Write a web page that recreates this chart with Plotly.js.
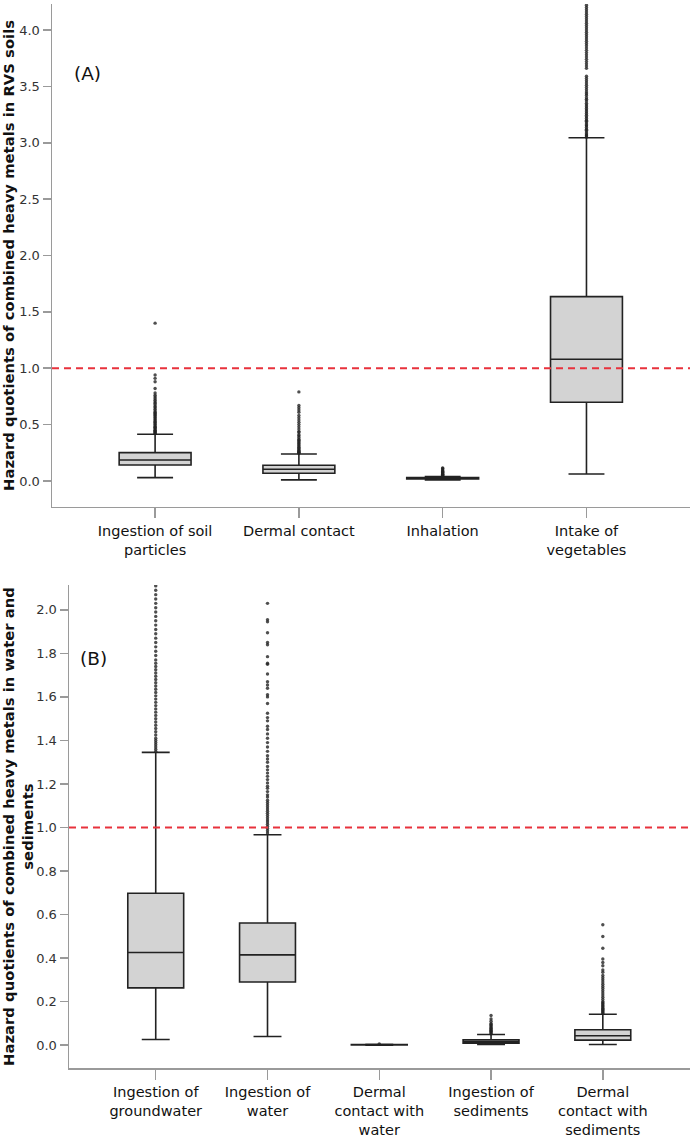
<!DOCTYPE html>
<html>
<head>
<meta charset="utf-8">
<script src="https://cdn.plot.ly/plotly-3.0.1.min.js"></script>
<style>html,body{margin:0;padding:0;background:#fff;}#chart{width:700px;height:1139px;}</style>
</head>
<body>
<div id="chart"></div>
<script>
// ---------- Panel A: soils ----------
const catsA = ["Ingestion of soil<br>particles", "Dermal contact", "Inhalation", "Intake of<br>vegetables"];
const q1A = [0.142, 0.068, 0.018, 0.698];
const medA = [0.186, 0.104, 0.024, 1.079];
const q3A = [0.251, 0.139, 0.030, 1.635];
const loA = [0.030, 0.010, 0.010, 0.062];
const hiA = [0.414, 0.239, 0.040, 3.045];
const outSoil = [0.42,0.425,0.43,0.44,0.445,0.45,0.46,0.47,0.475,0.48,0.49,0.50,0.51,0.52,0.53,0.54,0.55,0.56,0.57,0.58,0.59,0.60,0.61,0.62,0.635,0.65,0.66,0.675,0.69,0.70,0.715,0.73,0.745,0.76,0.78,0.82,0.88,0.91,0.94,1.40];
const outDermal = [0.245,0.25,0.255,0.26,0.265,0.27,0.28,0.29,0.30,0.31,0.32,0.33,0.34,0.35,0.36,0.37,0.385,0.40,0.41,0.43,0.44,0.46,0.48,0.50,0.52,0.54,0.56,0.58,0.61,0.63,0.65,0.67,0.79];
const outInhal = [0.045,0.05,0.055,0.06,0.065,0.07,0.075,0.08,0.085,0.09,0.10,0.11,0.115];
const outVeg = [3.05,3.06,3.07,3.08,3.095,3.11,3.12,3.135,3.15,3.16,3.175,3.19,3.20,3.215,3.23,3.245,3.26,3.275,3.29,3.305,3.32,3.335,3.35,3.37,3.385,3.40,3.42,3.435,3.45,3.47,3.49,3.51,3.53,3.55,3.57,3.59,3.66,3.68,3.70,3.72,3.74,3.76,3.78,3.80,3.82,3.84,3.86,3.88,3.90,3.92,3.94,3.96,3.98,4.00,4.02,4.04,4.06,4.08,4.10,4.12,4.14,4.16,4.18,4.20,4.22,4.25];

// ---------- Panel B: water and sediments ----------
const catsB = ["Ingestion of<br>groundwater", "Ingestion of<br>water", "Dermal<br>contact with<br>water", "Ingestion of<br>sediments", "Dermal<br>contact with<br>sediments"];
const q1B = [0.263, 0.290, 0.001, 0.009, 0.023];
const medB = [0.426, 0.415, 0.002, 0.016, 0.043];
const q3B = [0.698, 0.561, 0.003, 0.025, 0.071];
const loB = [0.026, 0.040, 0.000, 0.003, 0.003];
const hiB = [1.345, 0.967, 0.004, 0.049, 0.142];
const outGround = [1.35,1.36,1.37,1.38,1.39,1.40,1.41,1.425,1.44,1.455,1.47,1.485,1.50,1.515,1.53,1.545,1.56,1.575,1.59,1.605,1.62,1.635,1.65,1.665,1.68,1.695,1.71,1.725,1.74,1.755,1.77,1.79,1.81,1.83,1.85,1.87,1.89,1.91,1.93,1.95,1.97,1.99,2.01,2.03,2.05,2.07,2.09,2.11,2.13];
const outWater = [0.975,0.985,0.995,1.005,1.015,1.025,1.035,1.045,1.055,1.065,1.075,1.085,1.095,1.105,1.115,1.125,1.14,1.15,1.165,1.18,1.19,1.205,1.22,1.235,1.25,1.265,1.28,1.30,1.315,1.33,1.35,1.37,1.39,1.41,1.43,1.45,1.465,1.49,1.505,1.525,1.57,1.60,1.61,1.64,1.655,1.67,1.705,1.75,1.755,1.785,1.84,1.85,1.895,1.945,1.955,2.03];
const outDermWater = [0.006];
const outSed = [0.052,0.056,0.06,0.064,0.068,0.072,0.076,0.08,0.085,0.09,0.095,0.10,0.11,0.12,0.136];
const outDermSed = [0.145,0.15,0.155,0.16,0.165,0.17,0.175,0.18,0.185,0.19,0.195,0.20,0.21,0.22,0.23,0.24,0.25,0.26,0.27,0.28,0.29,0.30,0.31,0.32,0.335,0.345,0.365,0.38,0.396,0.445,0.499,0.553];

const threshold = 1.0;
const yTicksA = [0, 0.5, 1.0, 1.5, 2.0, 2.5, 3.0, 3.5, 4.0];
const yTicksB = [0, 0.2, 0.4, 0.6, 0.8, 1.0, 1.2, 1.4, 1.6, 1.8, 2.0];

const boxLine = {color: '#222', width: 1.6};
const fill = '#d3d3d3';
const FONT = 'DejaVu Sans, Liberation Sans, Arial, sans-serif';

function boxTrace(n, q1, med, q3, lo, hi, xa, ya) {
  const xs = [];
  for (let i = 0; i < n; i++) xs.push(i);
  return {
    type: 'box', x: xs, q1: q1, median: med, q3: q3, lowerfence: lo, upperfence: hi,
    width: 0.5, whiskerwidth: 0.5, fillcolor: fill, line: boxLine, boxpoints: false,
    xaxis: xa, yaxis: ya, hoverinfo: 'skip', showlegend: false
  };
}
function outTrace(idx, vals, xa, ya) {
  return {
    type: 'scatter', mode: 'markers', x: vals.map(() => idx), y: vals,
    marker: {size: 3.4, color: 'rgba(35,35,35,0.8)', line: {width: 0}},
    xaxis: xa, yaxis: ya, hoverinfo: 'skip', showlegend: false, cliponaxis: true
  };
}

const data = [
  boxTrace(4, q1A, medA, q3A, loA, hiA, 'x', 'y'),
  outTrace(0, outSoil, 'x', 'y'),
  outTrace(1, outDermal, 'x', 'y'),
  outTrace(2, outInhal, 'x', 'y'),
  outTrace(3, outVeg, 'x', 'y'),
  boxTrace(5, q1B, medB, q3B, loB, hiB, 'x2', 'y2'),
  outTrace(0, outGround, 'x2', 'y2'),
  outTrace(1, outWater, 'x2', 'y2'),
  outTrace(2, outDermWater, 'x2', 'y2'),
  outTrace(3, outSed, 'x2', 'y2'),
  outTrace(4, outDermSed, 'x2', 'y2')
];

const axisCommon = {
  showline: true, linecolor: '#9a9a9a', linewidth: 1.5,
  showgrid: false, zeroline: false, ticks: 'outside', tickcolor: '#9a9a9a', tickwidth: 1.5
};

const layout = {
  width: 700, height: 1139,
  margin: {l: 52, r: 10, t: 4, b: 71},
  paper_bgcolor: '#fff', plot_bgcolor: '#fff',
  showlegend: false,
  font: {family: FONT, color: '#111'},
  xaxis: Object.assign({}, axisCommon, {
    domain: [0, 1], anchor: 'y', range: [-0.717, 3.72],
    tickvals: [0, 1, 2, 3], ticktext: catsA, ticklen: 10, ticklabelstandoff: 0,
    tickfont: {family: FONT, size: 14.5, color: '#111'}
  }),
  yaxis: Object.assign({}, axisCommon, {
    domain: [0.5273, 1], anchor: 'x', range: [-0.2306, 4.231],
    tickvals: yTicksA, tickformat: '.1f', ticklen: 8,
    tickfont: {family: FONT, size: 13, color: '#333'},
    title: {text: 'Hazard quotients of combined heavy metals in RVS soils',
            font: {family: 'DejaVu Sans, Arial, sans-serif', size: 14.8, color: '#111', weight: 'bold'}, standoff: 4}
  }),
  xaxis2: Object.assign({}, axisCommon, {
    domain: [17 / 638, 1], anchor: 'y2', range: [-0.776, 4.78],
    tickvals: [0, 1, 2, 3, 4], ticktext: catsB, ticklen: 10, ticklabelstandoff: 0,
    tickfont: {family: FONT, size: 14.5, color: '#111'}
  }),
  yaxis2: Object.assign({}, axisCommon, {
    domain: [0, 0.4539], anchor: 'x2', range: [-0.105, 2.114],
    tickvals: yTicksB, tickformat: '.1f', ticklen: 8,
    tickfont: {family: FONT, size: 13, color: '#333'},
    title: {text: 'Hazard quotients of combined heavy metals in water and<br>sediments',
            font: {family: 'DejaVu Sans, Arial, sans-serif', size: 14.8, color: '#111', weight: 'bold'}, standoff: 2}
  }),
  shapes: [
    {type: 'line', xref: 'x domain', yref: 'y', x0: 0, x1: 1, y0: threshold, y1: threshold,
     line: {color: '#e8323c', width: 1.8, dash: '7px,5px'}},
    {type: 'line', xref: 'x2 domain', yref: 'y2', x0: 0, x1: 1, y0: threshold, y1: threshold,
     line: {color: '#e8323c', width: 1.8, dash: '7px,5px'}}
  ],
  annotations: [
    {text: '(A)', xref: 'paper', yref: 'paper', x: 0.0549, y: 0.935, xanchor: 'center', yanchor: 'middle',
     showarrow: false, font: {family: FONT, size: 18.5, color: '#111'}},
    {text: '(B)', xref: 'paper', yref: 'paper', x: 0.0658, y: 0.385, xanchor: 'center', yanchor: 'middle',
     showarrow: false, font: {family: FONT, size: 18.5, color: '#111'}}
  ]
};

Plotly.newPlot('chart', data, layout, {staticPlot: true, displayModeBar: false});
</script>
</body>
</html>
